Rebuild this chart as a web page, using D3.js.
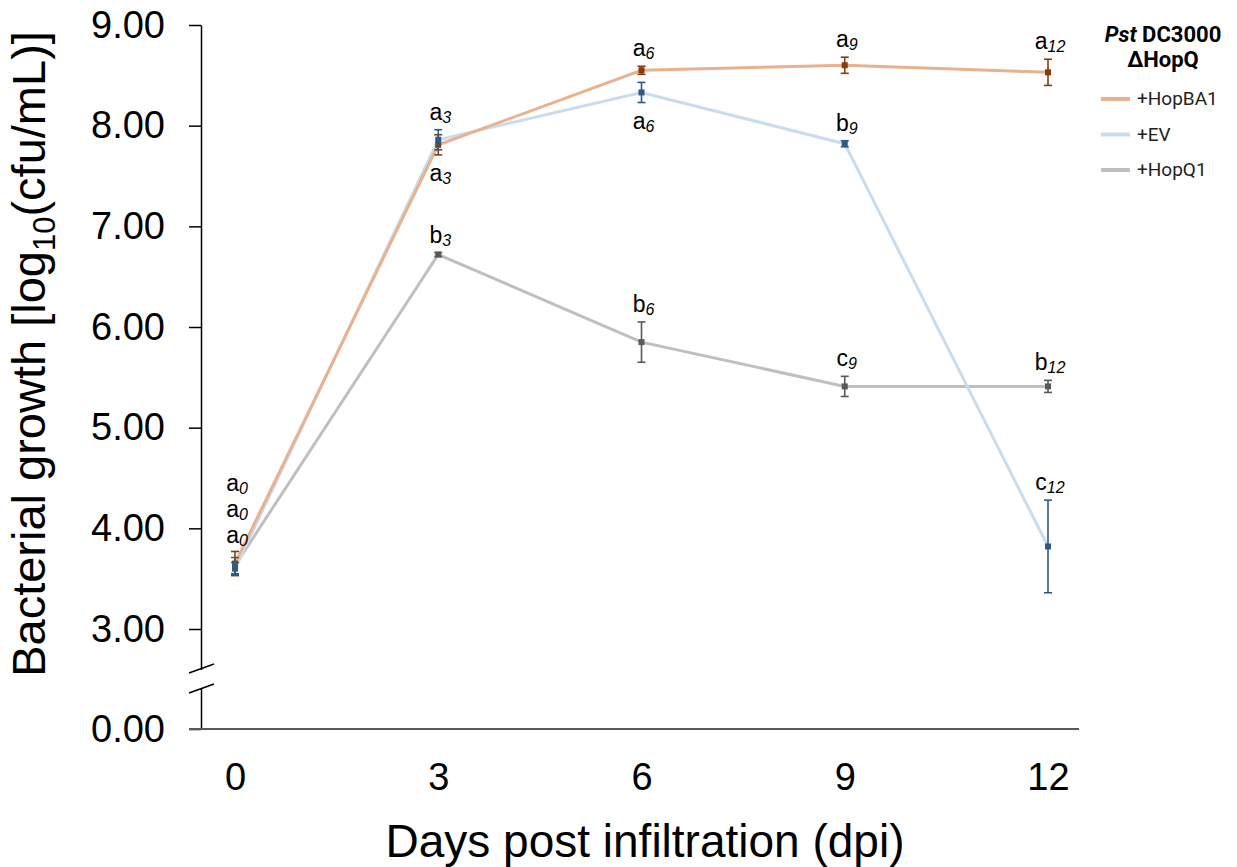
<!DOCTYPE html>
<html>
<head>
<meta charset="utf-8">
<script src="https://cdn.jsdelivr.net/npm/d3@7"></script>
<style>
    body { margin: 0; background: #fff; }
    svg { display: block; }
</style>
</head>
<body>
<div id="canvas"></div>
<script>
"use strict"

// data
let days = [0, 3, 6, 9, 12]
let seriesNames = ["+HopBA1", "+EV", "+HopQ1"]

let hopba1Mean = [3.65, 7.81, 8.55, 8.60, 8.53]
let hopba1Err = [0.12, 0.10, 0.04, 0.08, 0.13]
let hopba1Letters = ["a", "a", "a", "a", "a"]

let evMean = [3.60, 7.86, 8.33, 7.82, 3.82]
let evErr = [0.06, 0.10, 0.10, 0.03, 0.46]
let evLetters = ["a", "a", "a", "b", "c"]

let hopq1Mean = [3.63, 6.72, 5.85, 5.41, 5.41]
let hopq1Err = [0.08, 0.02, 0.20, 0.10, 0.06]
let hopq1Letters = ["a", "b", "b", "c", "b"]

let yTicks = [0, 3, 4, 5, 6, 7, 8, 9]

let svgWidth = 1237
let svgHeight = 867

let lineColors = ["#e8b28f", "#c8dcee", "#bfbfbf"]
let markColors = ["#843c0c", "#2e5a87", "#595959"]

let series = [
    { name: seriesNames[0], mean: hopba1Mean, err: hopba1Err, letters: hopba1Letters, line: lineColors[0], mark: markColors[0] },
    { name: seriesNames[1], mean: evMean, err: evErr, letters: evLetters, line: lineColors[1], mark: markColors[1] },
    { name: seriesNames[2], mean: hopq1Mean, err: hopq1Err, letters: hopq1Letters, line: lineColors[2], mark: markColors[2] }
]

let svg = d3.select("#canvas")
    .append("svg")
    .attr("width", svgWidth)
    .attr("height", svgHeight)

let xScale = d3.scaleLinear()
    .domain([0, 12])
    .range([235, 1048])

// broken axis: 0..3 squeezed into a short segment
let yScale = d3.scaleLinear()
    .domain([0, 3, 9])
    .range([729, 629, 25])

let axisX = 201

// y axis
let yAxis = svg.append("g")
    .attr("transform", `translate(${axisX},0)`)
    .call(d3.axisLeft(yScale)
        .tickValues(yTicks)
        .tickSize(12)
        .tickSizeOuter(0)
        .tickPadding(24)
        .tickFormat(d3.format(".2f")))

yAxis.select(".domain").attr("stroke", "#000").attr("stroke-width", 1.5)
yAxis.selectAll(".tick line").attr("stroke", "#000").attr("stroke-width", 1.5)
yAxis.selectAll(".tick text")
    .attr("font-family", "Liberation Sans, Arial, sans-serif")
    .attr("font-size", 38)
    .attr("fill", "#000")

// axis break
svg.append("rect")
    .attr("x", axisX - 4)
    .attr("y", 670)
    .attr("width", 8)
    .attr("height", 18)
    .attr("fill", "#fff")

svg.selectAll("line.brk")
    .data([673, 693])
    .join("line")
    .classed("brk", true)
    .attr("x1", 189)
    .attr("x2", 214)
    .attr("y1", d => d)
    .attr("y2", d => d - 9)
    .attr("stroke", "#000")
    .attr("stroke-width", 1.5)

// x axis
svg.append("line")
    .attr("x1", 189)
    .attr("x2", 1079)
    .attr("y1", yScale(0))
    .attr("y2", yScale(0))
    .attr("stroke", "#595959")
    .attr("stroke-width", 2)

let xAxis = svg.append("g")
    .attr("transform", `translate(0,${yScale(0)})`)
    .call(d3.axisBottom(xScale)
        .tickValues(days)
        .tickSize(0)
        .tickPadding(34)
        .tickFormat(d3.format("d")))

xAxis.select(".domain").remove()
xAxis.selectAll(".tick text")
    .attr("font-family", "Liberation Sans, Arial, sans-serif")
    .attr("font-size", 38)
    .attr("fill", "#000")

// axis titles
svg.append("text")
    .attr("x", 645)
    .attr("y", 857)
    .attr("text-anchor", "middle")
    .attr("font-family", "Liberation Sans, Arial, sans-serif")
    .attr("font-size", 46)
    .text("Days post infiltration (dpi)")

let yTitle = svg.append("text")
    .attr("transform", "translate(45,354) rotate(-90)")
    .attr("text-anchor", "middle")
    .attr("font-family", "Liberation Sans, Arial, sans-serif")
    .attr("font-size", 47)
yTitle.append("tspan").text("Bacterial growth [log")
yTitle.append("tspan").attr("font-size", 31).attr("dy", 10).text("10")
yTitle.append("tspan").attr("dy", -10).text("(cfu/mL)]")

// lines
let line = d3.line()
    .x((d, i) => xScale(days[i]))
    .y(d => yScale(d))

let lineOrder = [2, 1, 0]
lineOrder.forEach(function (k) {
    svg.append("path")
        .datum(series[k].mean)
        .attr("d", line)
        .attr("fill", "none")
        .attr("stroke", series[k].line)
        .attr("stroke-width", 3)
})

// error bars and markers
let markOrder = [0, 2, 1]
markOrder.forEach(function (k) {
    let s = series[k]
    let pts = days.map((d, i) => ({ x: d, m: s.mean[i], e: s.err[i] }))
    let g = svg.append("g")

    g.selectAll("line.bar")
        .data(pts)
        .join("line")
        .classed("bar", true)
        .attr("x1", d => xScale(d.x))
        .attr("x2", d => xScale(d.x))
        .attr("y1", d => yScale(d.m - d.e))
        .attr("y2", d => yScale(d.m + d.e))
        .attr("stroke", s.mark)
        .attr("stroke-width", 1.6)

    g.selectAll("line.capTop")
        .data(pts)
        .join("line")
        .classed("capTop", true)
        .attr("x1", d => xScale(d.x) - 4)
        .attr("x2", d => xScale(d.x) + 4)
        .attr("y1", d => yScale(d.m + d.e))
        .attr("y2", d => yScale(d.m + d.e))
        .attr("stroke", s.mark)
        .attr("stroke-width", 1.6)

    g.selectAll("line.capBot")
        .data(pts)
        .join("line")
        .classed("capBot", true)
        .attr("x1", d => xScale(d.x) - 4)
        .attr("x2", d => xScale(d.x) + 4)
        .attr("y1", d => yScale(d.m - d.e))
        .attr("y2", d => yScale(d.m - d.e))
        .attr("stroke", s.mark)
        .attr("stroke-width", 1.6)

    g.selectAll("rect.mark")
        .data(pts)
        .join("rect")
        .classed("mark", true)
        .attr("x", d => xScale(d.x) - 3)
        .attr("y", d => yScale(d.m) - 3)
        .attr("width", 6)
        .attr("height", 6)
        .attr("fill", s.mark)
})

// significance letters
function addLetter(x, baseline, letter, day) {
    let t = svg.append("text")
        .attr("x", xScale(x) + 2)
        .attr("y", baseline)
        .attr("text-anchor", "middle")
        .attr("font-family", "Liberation Sans, Arial, sans-serif")
        .attr("font-size", 23)
        .attr("fill", "#000")
    t.append("tspan").text(letter)
    t.append("tspan")
        .attr("font-size", 16)
        .attr("font-style", "italic")
        .attr("dy", 3)
        .text(day)
}

days.forEach(function (d, i) {
    let order = [0, 1, 2].sort((a, b) => series[b].mean[i] - series[a].mean[i])
    let close = order.filter(k => series[order[0]].mean[i] - series[k].mean[i] < 0.3)

    if (close.length > 2) {
        // all overlap: stack the letters above the highest bar
        let top = d3.min(close, k => yScale(series[k].mean[i] + series[k].err[i]))
        close.forEach(function (k, j) {
            addLetter(d, top - 8 - (close.length - 1 - j) * 26, series[k].letters[i], d)
        })
        return
    }

    order.forEach(function (k, j) {
        let s = series[k]
        let higher = j > 0 ? series[order[j - 1]].mean[i] : Infinity
        if (higher - s.mean[i] < 0.3) {
            addLetter(d, yScale(s.mean[i] - s.err[i]) + 26, s.letters[i], d)
        } else {
            addLetter(d, yScale(s.mean[i] + s.err[i]) - 10, s.letters[i], d)
        }
    })
})

// legend
let legend = svg.append("g")

let title1 = legend.append("text")
    .attr("x", 1163)
    .attr("y", 42)
    .attr("text-anchor", "middle")
    .attr("font-family", "Roboto, sans-serif")
    .attr("font-weight", "bold")
    .attr("font-size", 22)
title1.append("tspan").attr("font-style", "italic").text("Pst")
title1.append("tspan").text(" DC3000")

legend.append("text")
    .attr("x", 1163)
    .attr("y", 67)
    .attr("text-anchor", "middle")
    .attr("font-family", "Roboto, sans-serif")
    .attr("font-weight", "bold")
    .attr("font-size", 22)
    .text("\u0394HopQ")

let entries = legend.selectAll("g.entry")
    .data(series)
    .join("g")
    .classed("entry", true)
    .attr("transform", (d, i) => `translate(1101,${99 + i * 35.5})`)

entries.append("line")
    .attr("x1", 0)
    .attr("x2", 29)
    .attr("stroke", d => d.line)
    .attr("stroke-width", 4)

entries.append("text")
    .attr("x", 36)
    .attr("y", 6)
    .attr("font-family", "Roboto, sans-serif")
    .attr("font-size", 19)
    .attr("fill", "#222")
    .text(d => d.name)
</script>
</body>
</html>
